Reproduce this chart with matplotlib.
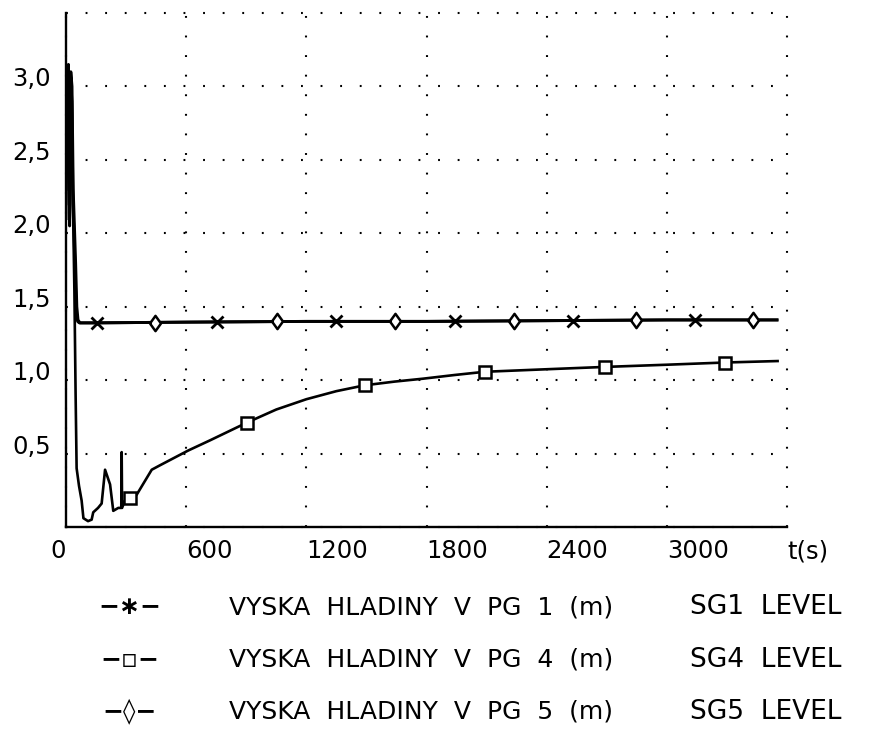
import numpy as np
import matplotlib
matplotlib.use("Agg")
import matplotlib.pyplot as plt

# ---------------- data ----------------
# SG1 level (VYSKA HLADINY V PG 1)
sg1_t = [0, 6, 12, 18, 24, 30, 36, 42, 48, 54, 60, 70, 150, 600, 1200, 1800, 2400, 3000, 3550]
sg1_v = [2.3, 3.05, 3.15, 2.05, 3.1, 3.0, 2.3, 2.05, 1.8, 1.5, 1.41, 1.39, 1.39, 1.395, 1.40, 1.40, 1.405, 1.41, 1.41]
sg1_mark_t = [155, 754, 1347, 1941, 2530, 3139]
sg1_mark_v = [1.39, 1.395, 1.40, 1.40, 1.405, 1.41]

# SG5 level (VYSKA HLADINY V PG 5)
sg5_t = [0, 5, 10, 16, 22, 28, 34, 40, 46, 52, 58, 66, 150, 600, 1200, 1800, 2400, 3000, 3550]
sg5_v = [2.1, 2.9, 3.1, 2.4, 3.0, 2.9, 2.2, 2.0, 1.7, 1.45, 1.40, 1.39, 1.39, 1.395, 1.40, 1.40, 1.405, 1.41, 1.41]
sg5_mark_t = [444, 1053, 1642, 2236, 2844, 3428]
sg5_mark_v = [1.39, 1.40, 1.40, 1.405, 1.41, 1.41]

# SG4 level (VYSKA HLADINY V PG 4)
sg4_t = [0, 6, 12, 18, 24, 30, 36, 42, 48, 53, 65, 78, 87, 110, 128, 136, 160, 178, 195,
         220, 236, 261, 276, 278, 280, 294, 319, 353, 428, 469, 609, 719, 902, 1050, 1200,
         1350, 1492, 1640, 1783, 1940, 2091, 2415, 2690, 3000, 3289, 3553]
sg4_v = [2.2, 3.0, 3.1, 2.1, 3.05, 2.9, 2.1, 1.6, 0.9, 0.40, 0.28, 0.18, 0.06, 0.04, 0.05,
         0.10, 0.13, 0.16, 0.39, 0.29, 0.11, 0.13, 0.13, 0.51, 0.13, 0.18, 0.20, 0.22,
         0.39, 0.42, 0.52, 0.59, 0.71, 0.80, 0.87, 0.925, 0.965, 0.99, 1.01, 1.035, 1.057,
         1.075, 1.09, 1.105, 1.12, 1.13]
sg4_mark_t = [319, 902, 1492, 2091, 2690, 3289]
sg4_mark_v = [0.20, 0.71, 0.965, 1.057, 1.09, 1.12]

x_ticks = [0, 600, 1200, 1800, 2400, 3000, 3600]
x_labels = ["0", "600", "1200", "1800", "2400", "3000", "t(s)"]
y_ticks = [0, 0.5, 1.0, 1.5, 2.0, 2.5, 3.0, 3.5]
y_labels = ["", "0,5", "1,0", "1,5", "2,0", "2,5", "3,0", ""]

legend_symbols = ["\u2212\u2217\u2212", "\u2212\u25ab\u2212", "\u2212\u25ca\u2212"]
legend_texts = ["VYSKA  HLADINY  V  PG  1  (m)",
                "VYSKA  HLADINY  V  PG  4  (m)",
                "VYSKA  HLADINY  V  PG  5  (m)"]
legend_codes = ["SG1  LEVEL", "SG4  LEVEL", "SG5  LEVEL"]

# ---------------- figure ----------------
plt.rcParams["font.family"] = ["DejaVu Sans"]
FS = 17.5

fig = plt.figure(figsize=(8.76, 7.45), dpi=100)
ax = fig.add_axes([66 / 876, 1 - 527 / 745, (787 - 66) / 876, (527 - 13) / 745])

ax.set_xlim(0, 3600)
ax.set_ylim(0, 3.5)

# curves
ax.plot(sg4_t, sg4_v, color="black", lw=1.9, solid_joinstyle="round", zorder=3)
ax.plot(sg5_t, sg5_v, color="black", lw=2.1, solid_joinstyle="round", zorder=3)
ax.plot(sg1_t, sg1_v, color="black", lw=2.1, solid_joinstyle="round", zorder=3)

diamond = [(-0.72, 0.0), (0.0, 1.0), (0.72, 0.0), (0.0, -1.0), (-0.72, 0.0)]

ax.plot(sg1_mark_t, sg1_mark_v, linestyle="none", marker="x", markersize=9,
        mew=2.0, color="black", zorder=4)
ax.plot(sg5_mark_t, sg5_mark_v, linestyle="none", marker=diamond, markersize=11,
        mew=1.8, mfc="white", mec="black", zorder=4)
ax.plot(sg4_mark_t, sg4_mark_v, linestyle="none", marker="s", markersize=8,
        mew=1.8, mfc="white", mec="black", zorder=4)

# axes styling
for side in ("top", "right"):
    ax.spines[side].set_visible(False)
for side in ("left", "bottom"):
    ax.spines[side].set_linewidth(1.7)
    ax.spines[side].set_zorder(5)

ax.set_xticks(x_ticks, x_labels)
ax.set_yticks(y_ticks, y_labels)
ax.tick_params(axis="both", length=0, labelsize=FS)
ax.tick_params(axis="x", pad=9)
ax.tick_params(axis="y", pad=11)
xl = ax.get_xticklabels()
xl[0].set_ha("right")
for lbl in xl[1:]:
    lbl.set_ha("left")
for lbl in ax.get_yticklabels():
    lbl.set_va("baseline")

ax.grid(True, color="black", lw=1.5, linestyle=(0, (0.9, 8.5)),
        dash_capstyle="butt", clip_on=False)
ax.set_axisbelow(True)

# legend block (text)
rows_y = [1 - 607 / 745, 1 - 660 / 745, 1 - 712 / 745]
for y, sym, txt, code in zip(rows_y, legend_symbols, legend_texts, legend_codes):
    fig.text(130 / 876, y, sym, ha="center", va="center", fontsize=FS + 0.5,
             fontweight="bold")
    fig.text(229 / 876, y, txt, ha="left", va="center", fontsize=18)
    fig.text(766 / 876, y, code, ha="center", va="center", fontsize=19)

fig.savefig("out.png", dpi=100)
